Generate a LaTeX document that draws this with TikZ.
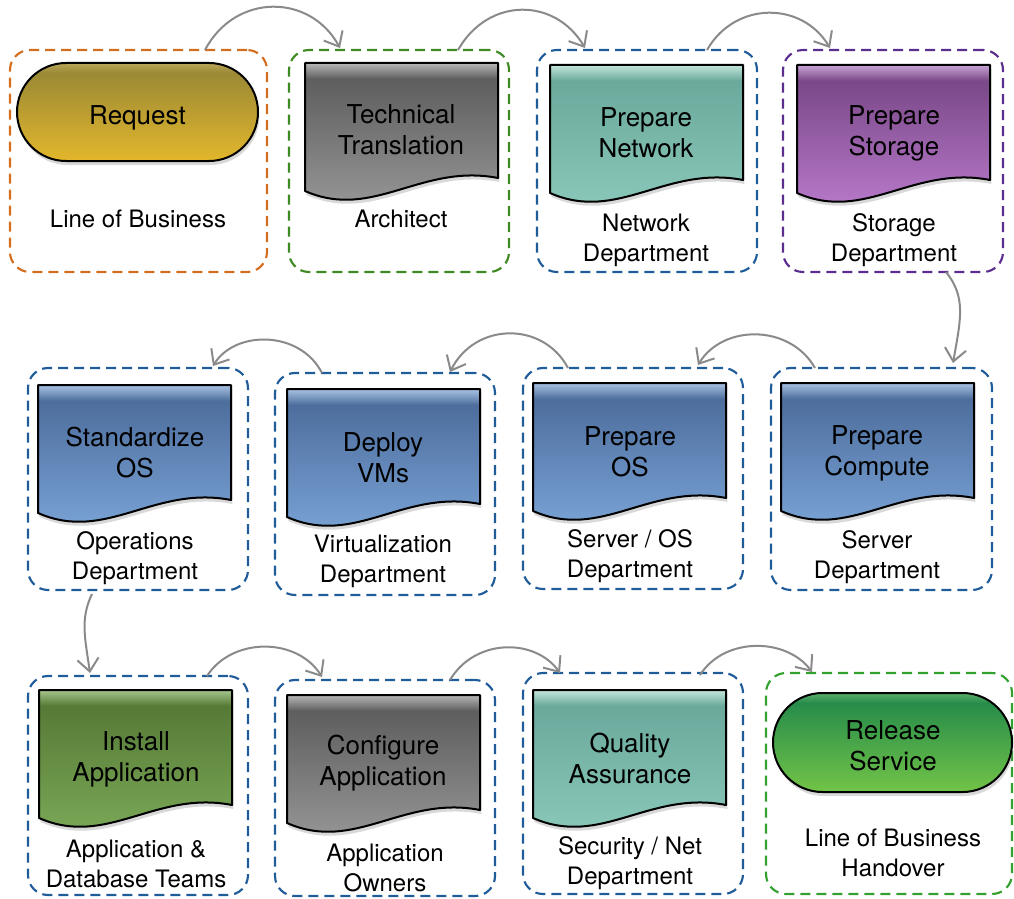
\documentclass[tikz,border=0pt]{standalone}
\usepackage{fontspec}
\setmainfont{TeX Gyre Heros}
\usetikzlibrary{arrows.meta,shapes.misc,shadows,fit,calc}

\definecolor{cOrange}{HTML}{D46E1E}
\definecolor{cGreenBox}{HTML}{3F8A22}
\definecolor{cBlueBox}{HTML}{1F5C99}
\definecolor{cPurpleBox}{HTML}{5B2D8E}
\definecolor{cRelBox}{HTML}{34A030}
\definecolor{cArrow}{HTML}{8A8A8A}

\definecolor{goldH}{HTML}{BBA85A}\definecolor{goldT}{HTML}{9B8935}\definecolor{goldB}{HTML}{E3B72C}
\definecolor{grayH}{HTML}{B8B8B8}\definecolor{grayT}{HTML}{5E5E5E}\definecolor{grayB}{HTML}{9C9C9C}
\definecolor{tealH}{HTML}{C3E6DC}\definecolor{tealT}{HTML}{6AA99B}\definecolor{tealB}{HTML}{8DCBBD}
\definecolor{purpH}{HTML}{C8A4D4}\definecolor{purpT}{HTML}{7A4888}\definecolor{purpB}{HTML}{BF7FD2}
\definecolor{blueH}{HTML}{A9C3E3}\definecolor{blueT}{HTML}{4D6E9D}\definecolor{blueB}{HTML}{7EA8DC}
\definecolor{grnH}{HTML}{A5C68D}\definecolor{grnT}{HTML}{567A36}\definecolor{grnB}{HTML}{7EAD5A}
\definecolor{relH}{HTML}{5CAE6E}\definecolor{relT}{HTML}{278C4A}\definecolor{relB}{HTML}{72C447}

\newcommand{\mkshade}[4]{\pgfdeclareverticalshading{#1}{100bp}{color(0bp)=(#4); color(25bp)=(#4); color(70bp)=(#3); color(75bp)=(#2); color(100bp)=(#2)}}
\mkshade{shGold}{goldH}{goldT}{goldB}
\mkshade{shGray}{grayH}{grayT}{grayB}
\mkshade{shTeal}{tealH}{tealT}{tealB}
\mkshade{shPurp}{purpH}{purpT}{purpB}
\mkshade{shBlue}{blueH}{blueT}{blueB}
\mkshade{shGrn}{grnH}{grnT}{grnB}
\mkshade{shRel}{relH}{relT}{relB}

\newcommand{\docshape}[3]{\path[docsty,shading=#3] (#1,#2) -- ({#1+193},#2) -- ({#1+193},{#2+115}) .. controls ({#1+116},{#2+100}) and ({#1+68},{#2+158}) .. (#1,{#2+128}) -- cycle;}

\begin{document}
\begin{tikzpicture}[x=0.75pt,y=-0.75pt,
  dbox/.style={rectangle, rounded corners=15pt, line width=1.6pt, dash pattern=on 7.5pt off 4.5pt, inner sep=0pt, outer sep=0pt},
  docsty/.style={draw=black, line width=1.5pt, line join=round, drop shadow={opacity=0.3, shadow xshift=1pt, shadow yshift=-3pt}},
  term/.style={rounded rectangle, draw=black, line width=1.5pt, drop shadow={opacity=0.3, shadow xshift=1pt, shadow yshift=-3pt}, inner sep=0pt},
  main/.style={font=\fontsize{19.5pt}{23.25pt}\selectfont, align=center, inner sep=0pt},
  lab/.style={font=\fontsize{18pt}{22.5pt}\selectfont, align=center, inner sep=0pt},
  conn/.style={draw=cArrow, line width=1.5pt, -{Straight Barb[length=9.5pt,width=16pt,line width=1.5pt]}}]
\useasboundingbox (0,0) rectangle (1014,899);

% dashed group boxes
\node[dbox, draw=cOrange,    fit={(10,50)(267,272)}] (b1) {};
\node[dbox, draw=cGreenBox,  fit={(289,50)(509,272)}] (b2) {};
\node[dbox, draw=cBlueBox,   fit={(537,50)(757,272)}] (b3) {};
\node[dbox, draw=cPurpleBox, fit={(783,50)(1003,272)}] (b4) {};
\node[dbox, draw=cBlueBox,   fit={(28,368)(248,590)}] (b5) {};
\node[dbox, draw=cBlueBox,   fit={(275,373)(495,595)}] (b6) {};
\node[dbox, draw=cBlueBox,   fit={(523,368)(743,589)}] (b7) {};
\node[dbox, draw=cBlueBox,   fit={(771,368)(992,590)}] (b8) {};
\node[dbox, draw=cBlueBox,   fit={(28,676)(248,895)}] (b9) {};
\node[dbox, draw=cBlueBox,   fit={(275,680)(495,896)}] (b10) {};
\node[dbox, draw=cBlueBox,   fit={(523,673)(743,894)}] (b11) {};
\node[dbox, draw=cRelBox,    fit={(766,673)(1012,894)}] (b12) {};

% shapes
\node[term, shading=shGold, minimum width=180.75pt, minimum height=73.5pt] (req) at (137.5,112) {};
\docshape{305}{63}{shGray}
\docshape{550}{65}{shTeal}
\docshape{797}{65}{shPurp}
\docshape{38}{385}{shBlue}
\docshape{287}{389}{shBlue}
\docshape{533}{383}{shBlue}
\docshape{781}{383}{shBlue}
\docshape{39}{690}{shGrn}
\docshape{287}{695}{shGray}
\docshape{533}{690}{shTeal}
\node[term, shading=shRel, minimum width=179.25pt, minimum height=74.25pt] (rel) at (892.5,742.5) {};

% shape texts
\node[main] (t1) at (137.5,118) {Request};
\node[main] (t2) at (401,130) {Technical\\Translation};
\node[main] (t3) at (646,133) {Prepare\\Network};
\node[main] (t4) at (894,133) {Prepare\\Storage};
\node[main] (t5) at (135,453) {Standardize\\OS};
\node[main] (t6) at (383,458) {Deploy\\VMs};
\node[main] (t7) at (630,452) {Prepare\\OS};
\node[main] (t8) at (877,453) {Prepare\\Compute};
\node[main] (t9) at (136,759) {Install\\Application};
\node[main] (t10) at (383,763) {Configure\\Application};
\node[main] (t11) at (630,758) {Quality\\Assurance};
\node[main] (t12) at (893,746) {Release\\Service};

% labels
\node[lab] (l1) at (138,219) {Line of Business};
\node[lab] (l2) at (401,219) {Architect};
\node[lab] (l3) at (646,240) {Network\\Department};
\node[lab] (l4) at (894,240) {Storage\\Department};
\node[lab] (l5) at (135,558) {Operations\\Department};
\node[lab] (l6) at (383,561) {Virtualization\\Department};
\node[lab] (l7) at (630,556) {Server / OS\\Department};
\node[lab] (l8) at (877,557) {Server\\Department};
\node[lab] (l9) at (136,864) {Application \&\\Database Teams};
\node[lab] (l10) at (385,868) {Application\\Owners};
\node[lab] (l11) at (630,863) {Security / Net\\Department};
\node[lab] (l12) at (893,853) {Line of Business\\Handover};

% connectors
\draw[conn] ($(b1.north west)+(195,0)$) .. controls +(30,-57) and +(-30,-55) .. ($(b2.north west)+(51,-2)$);
\draw[conn] ($(b2.north west)+(169,0)$) .. controls +(30,-53) and +(-30,-51) .. ($(b3.north west)+(48,-2)$);
\draw[conn] ($(b3.north west)+(170,0)$) .. controls +(28,-49) and +(-28,-47) .. ($(b4.north west)+(47,-2)$);
\draw[conn] ($(b4.south west)+(163,0)$) .. controls +(20,25) and +(8,-45) .. ($(b8.north west)+(182,-5)$);
\draw[conn] ($(b8.north west)+(44,0)$) .. controls +(-25,-44) and +(25,-41) .. ($(b7.north west)+(175,-3)$);
\draw[conn] ($(b7.north west)+(45,0)$) .. controls +(-25,-47) and +(25,-50) .. ($(b6.north west)+(175,-1)$);
\draw[conn] ($(b6.north west)+(47,0)$) .. controls +(-22,-43) and +(22,-36) .. ($(b5.north west)+(185,-2)$);
\draw[conn] ($(b5.south west)+(64,4)$) .. controls +(-12,25) and +(-5,-35) .. ($(b9.north west)+(62,-3)$);
\draw[conn] ($(b9.north west)+(179,0)$) .. controls +(25,-39) and +(-25,-40) .. ($(b10.north west)+(47,-3)$);
\draw[conn] ($(b10.north west)+(175,0)$) .. controls +(25,-42) and +(-25,-35) .. ($(b11.north west)+(37,0)$);
\draw[conn] ($(b11.north west)+(177,2)$) .. controls +(25,-39) and +(-25,-34) .. ($(b12.north west)+(46,-1)$);
\end{tikzpicture}
\end{document}
